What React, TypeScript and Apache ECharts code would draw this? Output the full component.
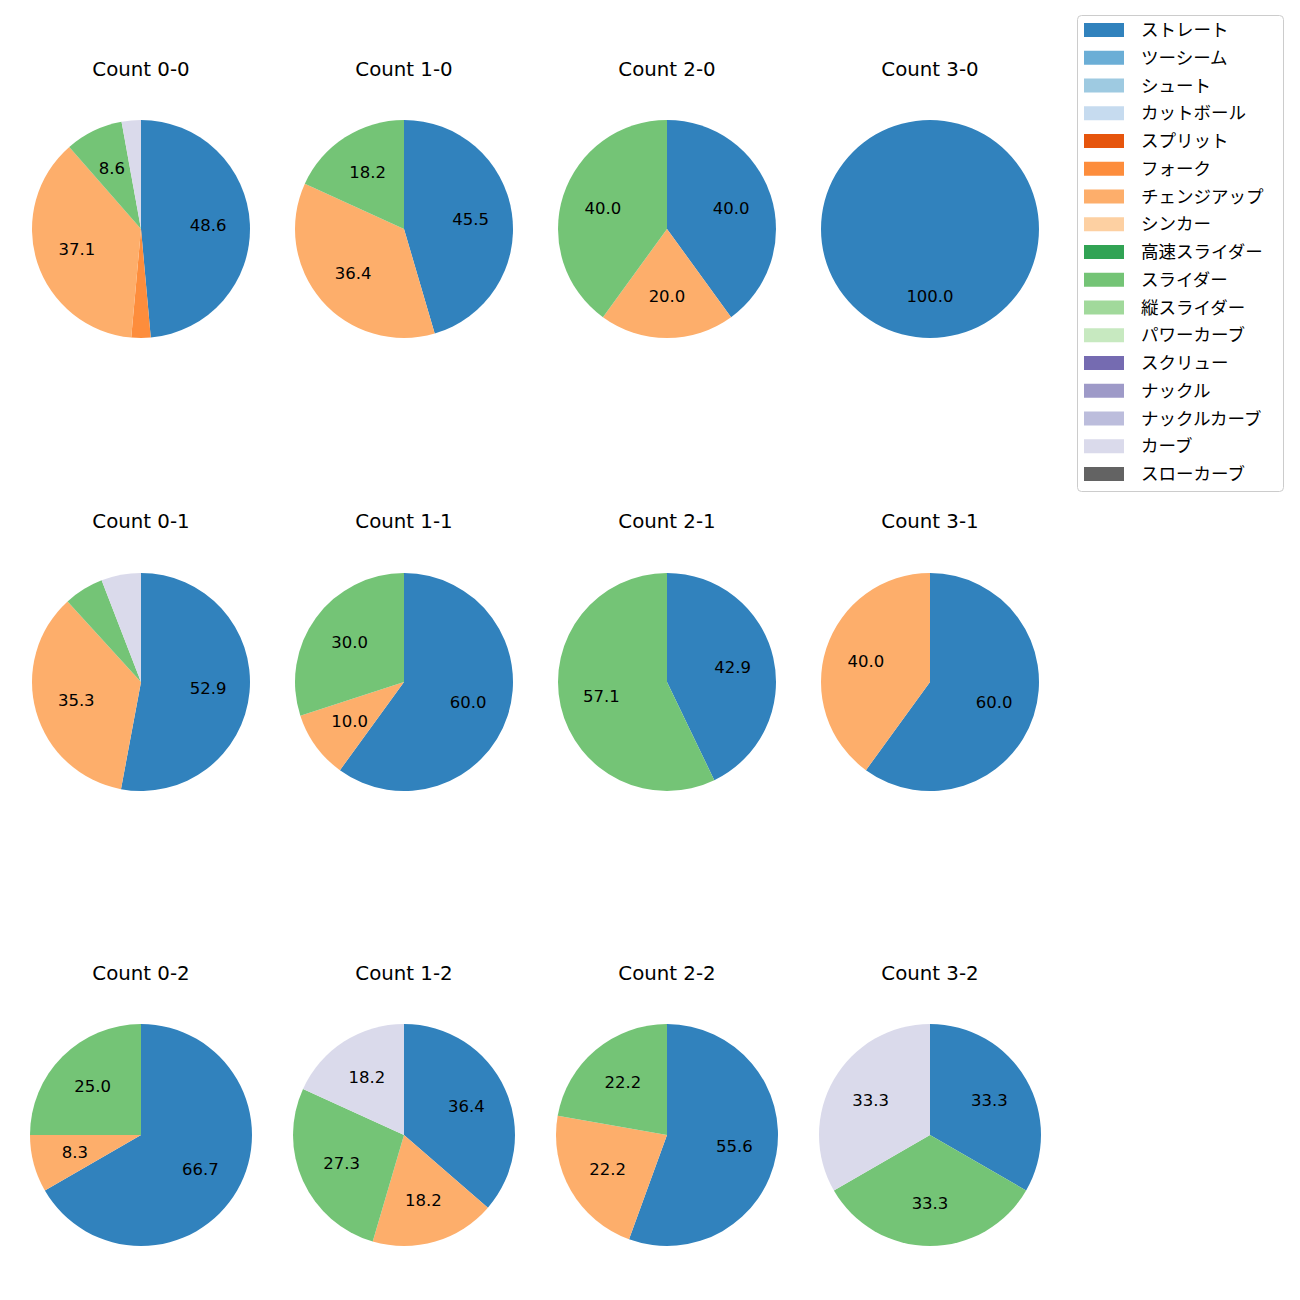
import React, { useEffect, useRef } from "react";
import * as echarts from "echarts";

const pitchTypes = [
  "ストレート", "ツーシーム", "シュート", "カットボール", "スプリット", "フォーク",
  "チェンジアップ", "シンカー", "高速スライダー", "スライダー", "縦スライダー",
  "パワーカーブ", "スクリュー", "ナックル", "ナックルカーブ", "カーブ", "スローカーブ",
];
const pitchColors = [
  "#3182bd", "#6baed6", "#9ecae1", "#c6dbef", "#e6550d", "#fd8d3c",
  "#fdae6b", "#fdd0a2", "#31a354", "#74c476", "#a1d99b",
  "#c7e9c0", "#756bb1", "#9e9ac8", "#bcbddc", "#dadaeb", "#636363",
];

const countTitles = [
  "Count 0-0", "Count 1-0", "Count 2-0", "Count 3-0",
  "Count 0-1", "Count 1-1", "Count 2-1", "Count 3-1",
  "Count 0-2", "Count 1-2", "Count 2-2", "Count 3-2",
];

// pitch counts per ball-strike count, in pitchTypes order
const c00 = [17, 0, 0, 0, 0, 1, 13, 0, 0, 3, 0, 0, 0, 0, 0, 1, 0];
const c10 = [5, 0, 0, 0, 0, 0, 4, 0, 0, 2, 0, 0, 0, 0, 0, 0, 0];
const c20 = [2, 0, 0, 0, 0, 0, 1, 0, 0, 2, 0, 0, 0, 0, 0, 0, 0];
const c30 = [1, 0, 0, 0, 0, 0, 0, 0, 0, 0, 0, 0, 0, 0, 0, 0, 0];
const c01 = [9, 0, 0, 0, 0, 0, 6, 0, 0, 1, 0, 0, 0, 0, 0, 1, 0];
const c11 = [6, 0, 0, 0, 0, 0, 1, 0, 0, 3, 0, 0, 0, 0, 0, 0, 0];
const c21 = [3, 0, 0, 0, 0, 0, 0, 0, 0, 4, 0, 0, 0, 0, 0, 0, 0];
const c31 = [3, 0, 0, 0, 0, 0, 2, 0, 0, 0, 0, 0, 0, 0, 0, 0, 0];
const c02 = [8, 0, 0, 0, 0, 0, 1, 0, 0, 3, 0, 0, 0, 0, 0, 0, 0];
const c12 = [4, 0, 0, 0, 0, 0, 2, 0, 0, 3, 0, 0, 0, 0, 0, 2, 0];
const c22 = [5, 0, 0, 0, 0, 0, 2, 0, 0, 2, 0, 0, 0, 0, 0, 0, 0];
const c32 = [1, 0, 0, 0, 0, 0, 0, 0, 0, 1, 0, 0, 0, 0, 0, 1, 0];

const allCounts = [c00, c10, c20, c30, c01, c11, c21, c31, c02, c12, c22, c32];

// layout
const colX = [141, 404, 667, 930];
const rowY = [229, 682, 1135];
const rowR = [109, 109, 111];
const titleY = [69, 521, 973];
const FONT = "'DejaVu Sans', 'Noto Sans CJK JP', sans-serif";

export default function App() {
  const ref = useRef<HTMLDivElement>(null);
  useEffect(() => {
    document.body.style.margin = "0";
    const chart = echarts.init(ref.current!, null, { renderer: "svg" });
    const series: any[] = [];
    // legend provider series (invisible)
    series.push({
      type: "pie",
      center: [-500, -500],
      radius: [0, 1],
      silent: true,
      label: { show: false },
      labelLine: { show: false },
      data: pitchTypes.map((n, i) => ({ name: n, value: 1, itemStyle: { color: pitchColors[i] } })),
    });
    const graphics: any[] = [
      {
        type: "rect",
        z: 0,
        shape: { x: 1077.5, y: 15.5, width: 206, height: 476, r: 4 },
        style: { fill: "rgba(255,255,255,0.8)", stroke: "#cccccc", lineWidth: 1 },
      },
    ];
    allCounts.forEach((vals, k) => {
      const row = Math.floor(k / 4);
      const col = k % 4;
      const cx = colX[col];
      const cy = rowY[row];
      const r = rowR[row];
      const total = vals.reduce((a, b) => a + b, 0);
      const data = vals
        .map((v, i) => ({ name: pitchTypes[i], value: v, color: pitchColors[i] }))
        .filter((d) => d.value > 0);
      series.push({
        type: "pie",
        center: [cx, cy],
        radius: [0, r],
        startAngle: 90,
        clockwise: true,
        silent: true,
        avoidLabelOverlap: false,
        label: { show: false },
        labelLine: { show: false },
        itemStyle: { borderWidth: 0 },
        emphasis: { disabled: true },
        data: data.map((d) => ({ name: d.name, value: d.value, itemStyle: { color: d.color } })),
      });
      series.push({
        type: "pie",
        center: [cx, cy],
        radius: [r * 0.18, r],
        startAngle: 90,
        clockwise: true,
        silent: true,
        avoidLabelOverlap: false,
        labelLine: { show: false },
        itemStyle: { color: "rgba(0,0,0,0)", borderWidth: 0 },
        emphasis: { disabled: true },
        label: {
          show: true,
          position: "inside",
          color: "#000",
          fontSize: 16.5,
          fontFamily: FONT,
          formatter: (p: any) => {
            const pct = (p.value / total) * 100;
            return pct >= 7 ? pct.toFixed(1) : "";
          },
        },
        data: data.map((d) => ({ name: d.name, value: d.value })),
      });
      graphics.push({
        type: "text",
        x: cx,
        y: titleY[row],
        style: {
          text: countTitles[k],
          fill: "#000",
          font: `19.8px ${FONT}`,
          textAlign: "center",
          textVerticalAlign: "middle",
        },
      });
    });
    chart.setOption({
      animation: false,
      backgroundColor: "#fff",
      graphic: graphics,
      legend: {
        orient: "vertical",
        left: 1084,
        top: 21,
        padding: 0,
        itemWidth: 40,
        itemHeight: 14,
        itemGap: 9.75,
        icon: "rect",
        selectedMode: false,
        data: pitchTypes,
        textStyle: {
          fontSize: 17.5,
          fontFamily: FONT,
          color: "#000",
          lineHeight: 18,
          padding: [0, 0, 0, 12],
        },
      },
      series,
    });
    return () => chart.dispose();
  }, []);
  return <div ref={ref} style={{ width: 1300, height: 1300 }} />;
}
